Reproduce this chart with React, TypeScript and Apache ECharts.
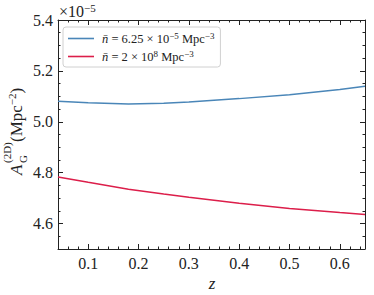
import React, { useEffect, useRef } from "react";
import * as echarts from "echarts";

const zValues = [0.04, 0.1, 0.18, 0.25, 0.3, 0.4, 0.5, 0.6, 0.65];
const seriesLowDensity = [5.081, 5.075, 5.07, 5.073, 5.078, 5.091, 5.106, 5.127, 5.14];
const seriesHighDensity = [4.783, 4.762, 4.735, 4.716, 4.703, 4.68, 4.659, 4.643, 4.636];
const seriesNames = ["lowDensity", "highDensity"];
const xMajorTicks = [0.1, 0.2, 0.3, 0.4, 0.5, 0.6];
const yMajorTicks = [4.6, 4.8, 5.0, 5.2, 5.4];

const FONT = "Liberation Serif";
const AXIS_COLOR = "#222";
const BLUE = "#4a86b8";
const RED = "#dc1e4a";

export default function App() {
  const ref = useRef<HTMLDivElement>(null);
  useEffect(() => {
    if (!ref.current) return;
    const chart = echarts.init(ref.current, undefined, { renderer: "svg" });
    const xMin = 0.04, xMax = 0.65, yMin = 4.5, yMax = 5.4;
    const majorX = (pos: "bottom" | "top", labels: boolean) => ({
      type: "value", min: xMin, max: xMax, position: pos,
      axisLine: { show: true, lineStyle: { color: AXIS_COLOR, width: 1 } },
      axisTick: { show: true, inside: true, length: 5, customValues: xMajorTicks, lineStyle: { color: AXIS_COLOR } },
      axisLabel: labels
        ? { show: true, customValues: xMajorTicks, formatter: (v: number) => v.toFixed(1), fontFamily: FONT, fontSize: 16, color: AXIS_COLOR, margin: 6 }
        : { show: false },
      splitLine: { show: false },
    });
    const minorX = (pos: "bottom" | "top") => ({
      type: "value", min: xMin, max: xMax, position: pos, interval: 0.02,
      axisLine: { show: false },
      axisTick: { show: true, inside: true, length: 2.5, lineStyle: { color: AXIS_COLOR } },
      axisLabel: { show: false }, splitLine: { show: false },
    });
    const majorY = (pos: "left" | "right", labels: boolean) => ({
      type: "value", min: yMin, max: yMax, position: pos,
      axisLine: { show: true, lineStyle: { color: AXIS_COLOR, width: 1 } },
      axisTick: { show: true, inside: true, length: 5, customValues: yMajorTicks, lineStyle: { color: AXIS_COLOR } },
      axisLabel: labels
        ? { show: true, customValues: yMajorTicks, formatter: (v: number) => v.toFixed(1), fontFamily: FONT, fontSize: 16, color: AXIS_COLOR, margin: 5 }
        : { show: false },
      splitLine: { show: false },
    });
    const minorY = (pos: "left" | "right") => ({
      type: "value", min: yMin, max: yMax, position: pos, interval: 0.05,
      axisLine: { show: false },
      axisTick: { show: true, inside: true, length: 2.5, lineStyle: { color: AXIS_COLOR } },
      axisLabel: { show: false }, splitLine: { show: false },
    });
    const supRich = {
      sup: { fontFamily: FONT, fontSize: 9, verticalAlign: "top", lineHeight: 15, color: AXIS_COLOR },
      it: { fontFamily: FONT, fontSize: 12.5, fontStyle: "italic", lineHeight: 15, color: AXIS_COLOR },
      n: { fontFamily: FONT, fontSize: 12.5, lineHeight: 15, color: AXIS_COLOR },
    };
    chart.setOption({
      animation: false,
      grid: { left: 58, right: 9, top: 20, bottom: 46, containLabel: false },
      xAxis: [majorX("bottom", true), minorX("bottom"), majorX("top", false), minorX("top")],
      yAxis: [majorY("left", true), minorY("left"), majorY("right", false), minorY("right")],
      legend: {
        left: 63, top: 27, orient: "vertical", icon: "rect",
        padding: [4, 6, 4, 5], itemGap: 4, itemWidth: 26, itemHeight: 1.6,
        backgroundColor: "#fff", borderColor: "#d0d0d0", borderWidth: 1, borderRadius: 3,
        data: seriesNames,
        formatter: (name: string) =>
          name === seriesNames[0]
            ? "{it|n̄}{n| = 6.25 × 10}{sup|−5}{n| Mpc}{sup|−3}"
            : "{it|n̄}{n| = 2 × 10}{sup|8}{n| Mpc}{sup|−3}",
        textStyle: { fontFamily: FONT, fontSize: 12.5, color: AXIS_COLOR, rich: supRich, padding: [0, 0, 0, 3] },
      },
      series: [
        {
          name: seriesNames[0], type: "line", xAxisIndex: 0, yAxisIndex: 0,
          data: zValues.map((z, i) => [z, seriesLowDensity[i]]),
          symbol: "none", smooth: false, lineStyle: { color: BLUE, width: 1.5 }, itemStyle: { color: BLUE },
        },
        {
          name: seriesNames[1], type: "line", xAxisIndex: 0, yAxisIndex: 0,
          data: zValues.map((z, i) => [z, seriesHighDensity[i]]),
          symbol: "none", smooth: false, lineStyle: { color: RED, width: 1.5 }, itemStyle: { color: RED },
        },
      ],
      graphic: [
        {
          type: "text", left: 59, top: 2,
          style: {
            text: "×10{s|−5}", fontFamily: FONT, fontSize: 16, fill: AXIS_COLOR,
            rich: { s: { fontFamily: FONT, fontSize: 11, verticalAlign: "top", lineHeight: 18, fill: AXIS_COLOR } },
          },
        },
        {
          type: "text", x: 212, y: 283,
          style: { text: "z", fontFamily: FONT, fontSize: 17, fontStyle: "italic", fill: AXIS_COLOR, align: "center", verticalAlign: "middle" },
        },
        {
          type: "group", x: 21, y: 175, rotation: Math.PI / 2,
          children: [
            { type: "text", x: 0, y: -5, style: { text: "A", fontFamily: FONT, fontSize: 17, fontStyle: "italic", fill: AXIS_COLOR, align: "left", verticalAlign: "middle" } },
            { type: "text", x: 12, y: 2, style: { text: "G", fontFamily: FONT, fontSize: 11, fill: AXIS_COLOR, align: "left", verticalAlign: "middle" } },
            { type: "text", x: 12, y: -14, style: { text: "(2D)", fontFamily: FONT, fontSize: 11, fill: AXIS_COLOR, align: "left", verticalAlign: "middle" } },
            {
              type: "text", x: 33, y: -5,
              style: {
                text: "(Mpc{s|−2})", fontFamily: FONT, fontSize: 17, fill: AXIS_COLOR, align: "left", verticalAlign: "middle",
                rich: { s: { fontFamily: FONT, fontSize: 11, verticalAlign: "top", lineHeight: 20, fill: AXIS_COLOR } },
              },
            },
          ],
        },
      ],
    });
    return () => chart.dispose();
  }, []);
  return <div ref={ref} style={{ width: 374, height: 295, position: "absolute", left: 0, top: 0 }} />;
}
